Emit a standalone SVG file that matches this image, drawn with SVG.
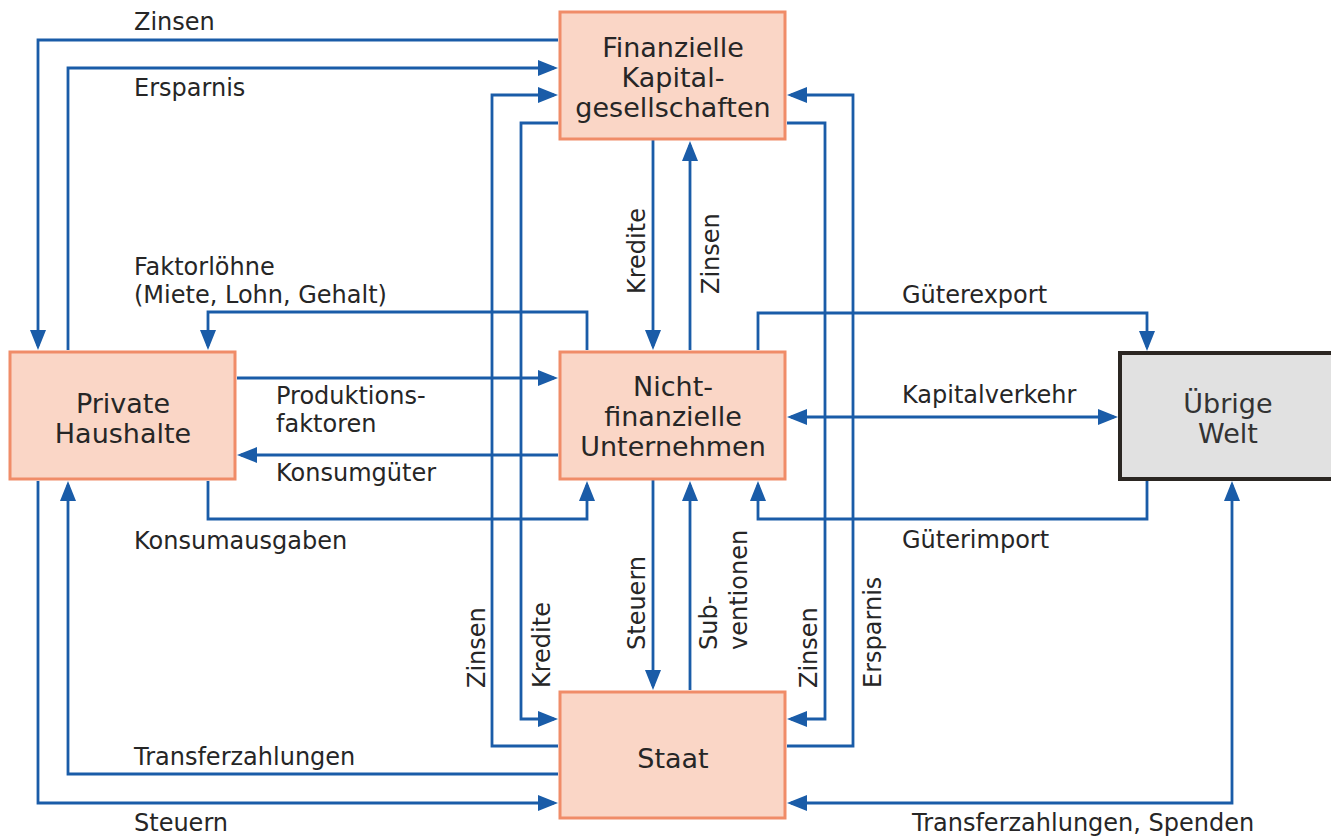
<svg xmlns="http://www.w3.org/2000/svg" width="1331" height="839" viewBox="0 0 1331 839">
<style>
.box{fill:#fad6c6;stroke:#f08c68;stroke-width:3}
.world{fill:#e1e1e1;stroke:#2b2622;stroke-width:4}
.bt{font-family:"DejaVu Sans",sans-serif;font-size:27px;fill:#262626;text-anchor:middle}
.lb{font-family:"DejaVu Sans",sans-serif;font-size:24px;fill:#262626}
.c{fill:none;stroke:#1a5ca8;stroke-width:2.8;marker-end:url(#ah)}
.c2{marker-start:url(#ah)}
</style>
<defs>
<marker id="ah" markerUnits="userSpaceOnUse" markerWidth="20" markerHeight="16" refX="16" refY="8" orient="auto-start-reverse" viewBox="0 0 20 16">
<path d="M0,0 L20,8 L0,16 z" fill="#1a5ca8"/>
</marker>
</defs>
<rect width="1331" height="839" fill="#ffffff"/>
<g id="connectors">
<path class="c" d="M558,40 H38 V346"/>
<path class="c" d="M68,350 V68 H554"/>
<path class="c" d="M558,746 H492 V95 H554"/>
<path class="c" d="M558,123 H521 V719 H554"/>
<path class="c" d="M787,123 H825 V719 H791"/>
<path class="c" d="M787,746 H853 V95 H791"/>
<path class="c" d="M653,140 V346"/>
<path class="c" d="M690,350 V145"/>
<path class="c" d="M653,480 V686"/>
<path class="c" d="M690,690 V485"/>
<path class="c" d="M587,350 V312 H208 V346"/>
<path class="c" d="M237,378 H554"/>
<path class="c" d="M558,455 H241"/>
<path class="c" d="M208,481 V519 H587 V485"/>
<path class="c" d="M758,350 V313 H1147 V347"/>
<path class="c c2" d="M791,417 H1114"/>
<path class="c" d="M1147,481 V519 H758 V485"/>
<path class="c" d="M558,774 H68 V485"/>
<path class="c" d="M38,481 V803 H554"/>
<path class="c c2" d="M791,803 H1232 V485"/>
</g>
<g id="labels">
<text class="lb" x="134" y="30">Zinsen</text>
<text class="lb" x="134" y="96">Ersparnis</text>
<text class="lb" x="134" y="275">Faktorlöhne</text>
<text class="lb" x="134" y="303">(Miete, Lohn, Gehalt)</text>
<text class="lb" x="276" y="404">Produktions-</text>
<text class="lb" x="276" y="432">faktoren</text>
<text class="lb" x="276" y="481">Konsumgüter</text>
<text class="lb" x="134" y="549">Konsumausgaben</text>
<text class="lb" x="902" y="303">Güterexport</text>
<text class="lb" x="902" y="403">Kapitalverkehr</text>
<text class="lb" x="902" y="548">Güterimport</text>
<text class="lb" x="134" y="765">Transferzahlungen</text>
<text class="lb" x="134" y="831">Steuern</text>
<text class="lb" x="912" y="831">Transferzahlungen, Spenden</text>
<text class="lb" transform="translate(645,294) rotate(-90)">Kredite</text>
<text class="lb" transform="translate(719,294) rotate(-90)">Zinsen</text>
<text class="lb" transform="translate(645,650) rotate(-90)">Steuern</text>
<text class="lb" transform="translate(717,650) rotate(-90)">Sub-</text>
<text class="lb" transform="translate(747,650) rotate(-90)">ventionen</text>
<text class="lb" transform="translate(485,688) rotate(-90)">Zinsen</text>
<text class="lb" transform="translate(550,688) rotate(-90)">Kredite</text>
<text class="lb" transform="translate(817,688) rotate(-90)">Zinsen</text>
<text class="lb" transform="translate(881,688) rotate(-90)">Ersparnis</text>
</g>
<g id="fk">
<rect class="box" x="560" y="12" width="225" height="127"/>
<text class="bt" x="673" y="57">Finanzielle</text>
<text class="bt" x="673" y="87">Kapital-</text>
<text class="bt" x="673" y="117">gesellschaften</text>
</g>
<g id="ph">
<rect class="box" x="10" y="352" width="225" height="127"/>
<text class="bt" x="123" y="413">Private</text>
<text class="bt" x="123" y="443">Haushalte</text>
</g>
<g id="nfu">
<rect class="box" x="560" y="352" width="225" height="127"/>
<text class="bt" x="673" y="396">Nicht-</text>
<text class="bt" x="673" y="426">finanzielle</text>
<text class="bt" x="673" y="456">Unternehmen</text>
</g>
<g id="welt">
<rect class="world" x="1120" y="353" width="220" height="126"/>
<text class="bt" x="1228" y="413" style="fill:#333">Übrige</text>
<text class="bt" x="1228" y="443" style="fill:#333">Welt</text>
</g>
<g id="staat">
<rect class="box" x="560" y="692" width="225" height="126"/>
<text class="bt" x="673" y="768">Staat</text>
</g>
</svg>
